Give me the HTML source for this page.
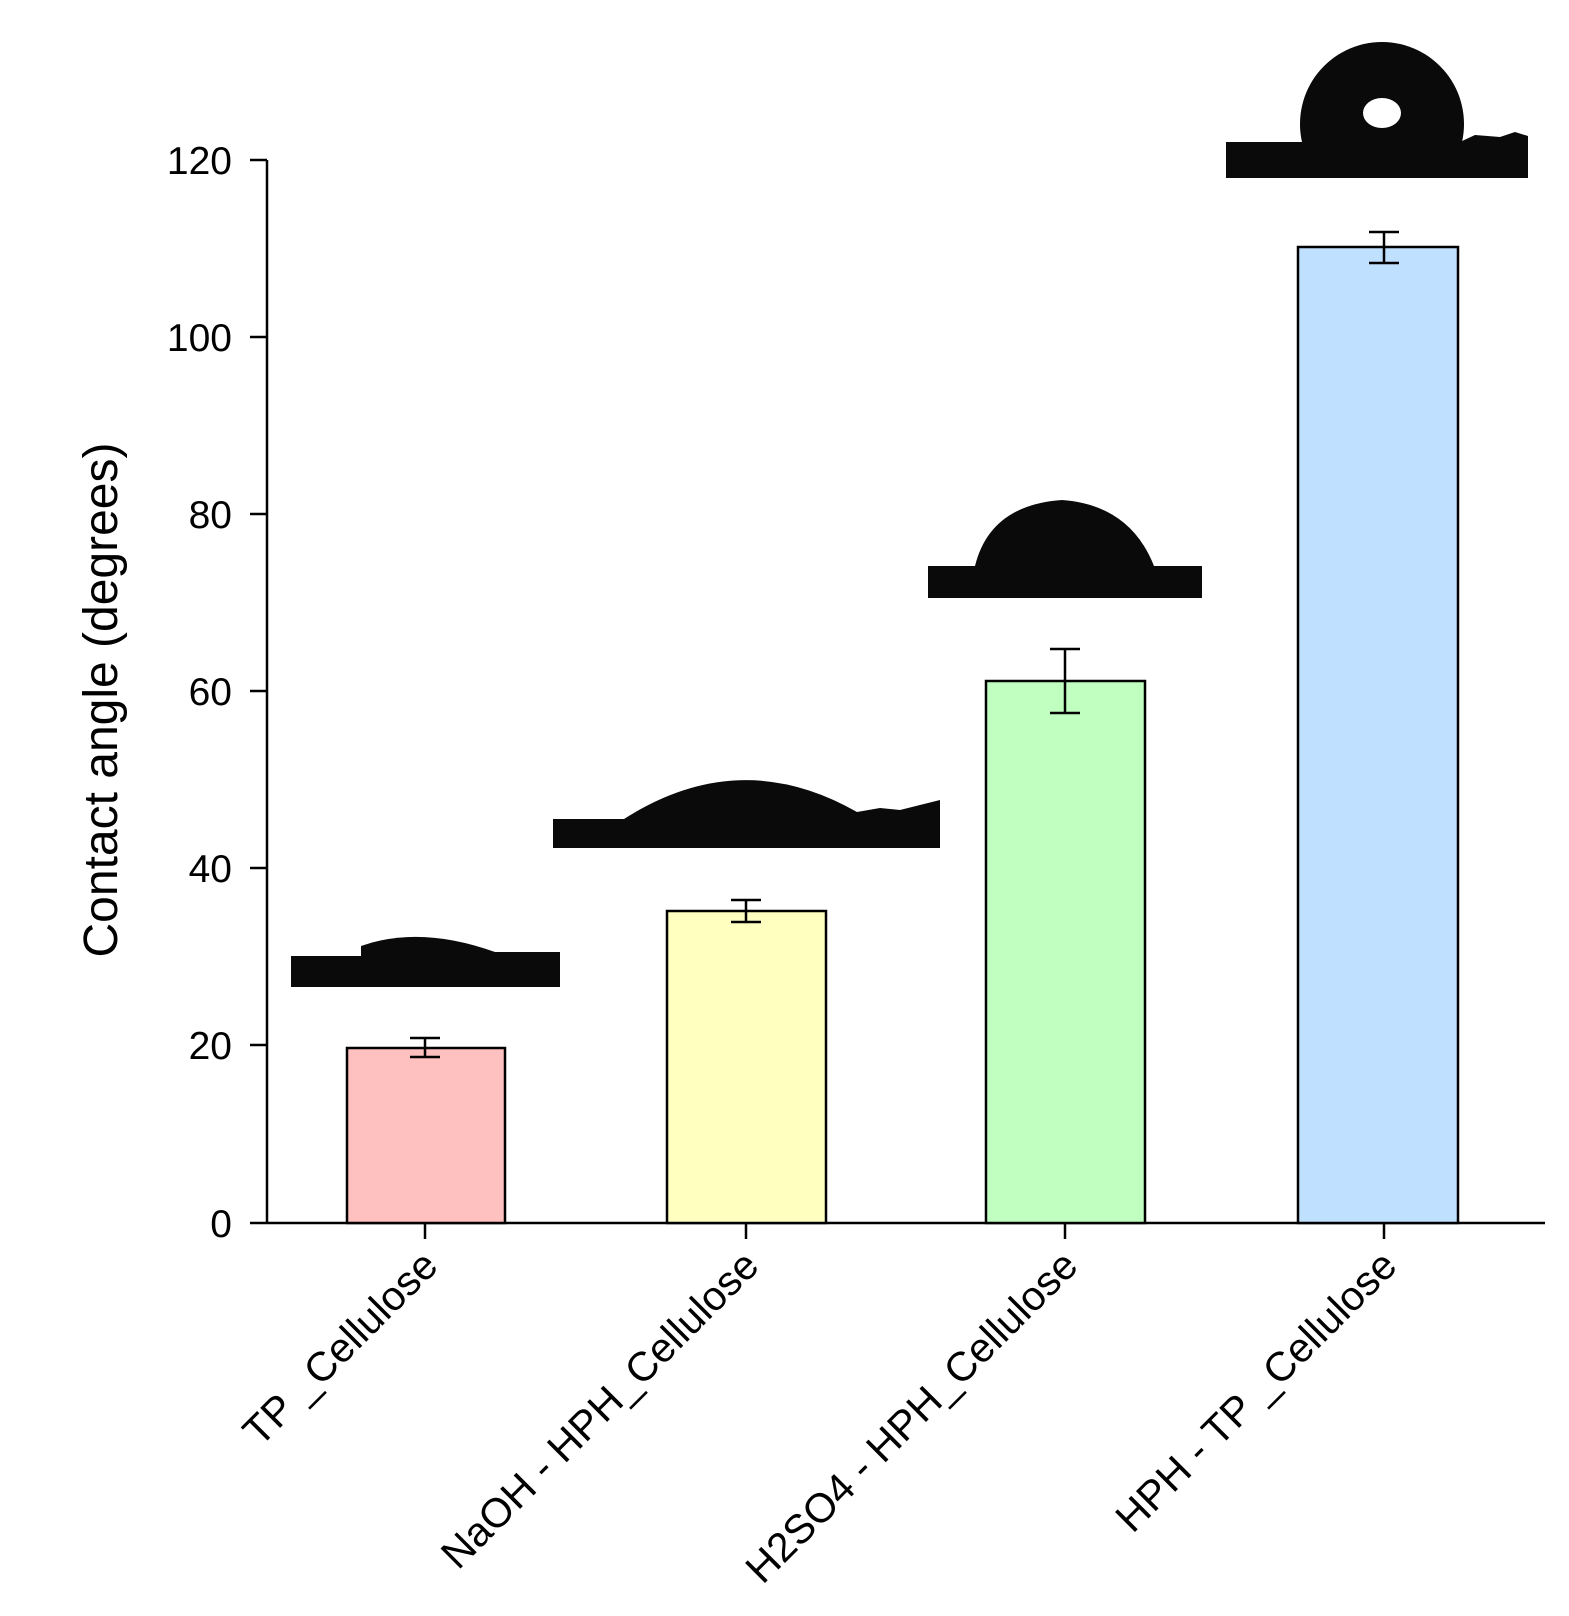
<!DOCTYPE html>
<html><head><style>html,body{margin:0;padding:0;background:#fff}</style></head><body>
<svg width="1569" height="1611" viewBox="0 0 1569 1611" xmlns="http://www.w3.org/2000/svg" font-family="Liberation Sans, Arial, sans-serif">
<rect width="1569" height="1611" fill="#fff"/>
<g stroke="#000" stroke-width="2.5" fill="none">
<line x1="267" y1="160" x2="267" y2="1223"/>
<line x1="250" y1="1223" x2="1545" y2="1223"/>
<line x1="250" y1="160" x2="267" y2="160"/>
<line x1="250" y1="337" x2="267" y2="337"/>
<line x1="250" y1="514" x2="267" y2="514"/>
<line x1="250" y1="691" x2="267" y2="691"/>
<line x1="250" y1="868" x2="267" y2="868"/>
<line x1="250" y1="1045" x2="267" y2="1045"/>
<line x1="425" y1="1223" x2="425" y2="1239"/>
<line x1="746" y1="1223" x2="746" y2="1239"/>
<line x1="1065" y1="1223" x2="1065" y2="1239"/>
<line x1="1384" y1="1223" x2="1384" y2="1239"/>
</g>
<g font-size="39" text-anchor="end" fill="#000">
<text x="232" y="174">120</text>
<text x="232" y="351">100</text>
<text x="232" y="528">80</text>
<text x="232" y="705">60</text>
<text x="232" y="882">40</text>
<text x="232" y="1059">20</text>
<text x="232" y="1237">0</text>
</g>
<text transform="translate(117,700) rotate(-90)" font-size="48" text-anchor="middle">Contact angle (degrees)</text>
<g stroke="#000" stroke-width="2.5">
<rect x="347" y="1048" width="158" height="175" fill="#ffc0c0"/>
<rect x="667" y="911" width="159" height="312" fill="#ffffc0"/>
<rect x="986" y="681" width="159" height="542" fill="#c0ffc0"/>
<rect x="1298" y="247" width="160" height="976" fill="#c0e0ff"/>
</g>
<g stroke="#000" stroke-width="2.5">
<line x1="425" y1="1038" x2="425" y2="1057"/><line x1="410" y1="1038" x2="440" y2="1038"/><line x1="410" y1="1057" x2="440" y2="1057"/>
<line x1="746" y1="900" x2="746" y2="922"/><line x1="731" y1="900" x2="761" y2="900"/><line x1="731" y1="922" x2="761" y2="922"/>
<line x1="1065" y1="649" x2="1065" y2="713"/><line x1="1050" y1="649" x2="1080" y2="649"/><line x1="1050" y1="713" x2="1080" y2="713"/>
<line x1="1384" y1="232" x2="1384" y2="263"/><line x1="1369" y1="232" x2="1399" y2="232"/><line x1="1369" y1="263" x2="1399" y2="263"/>
</g>
<g fill="#0a0a0a">
<rect x="291" y="956" width="269" height="31"/>
<path d="M361 956 L361 946 Q420 925 495 952 L495 956 Z"/>
<rect x="495" y="952" width="65" height="5"/>
<rect x="553" y="819" width="387" height="29"/>
<path d="M624 819 Q740 745 857 812 L880 808 L900 810 L940 800 L940 819 Z"/>
<rect x="928" y="566" width="274" height="32"/>
<path d="M975 566 Q990 505 1062 500 Q1130 505 1154 566 Z"/>
<rect x="1226" y="142" width="302" height="36"/>
<path d="M1302 142 A82 82 0 1 1 1462 142 Z"/>
<path d="M1460 142 L1475 135 L1500 137 L1515 132 L1528 136 L1528 142 Z"/>
</g>
<ellipse cx="1382" cy="113" rx="19" ry="15" fill="#fff"/>
<g font-size="41" text-anchor="end" fill="#000">
<text transform="translate(440,1268) rotate(-45)">TP _Cellulose</text>
<text transform="translate(761,1268) rotate(-45)">NaOH - HPH_Cellulose</text>
<text transform="translate(1080,1268) rotate(-45)">H2SO4 - HPH_Cellulose</text>
<text transform="translate(1399,1268) rotate(-45)">HPH - TP _Cellulose</text>
</g>
</svg>
</body></html>
